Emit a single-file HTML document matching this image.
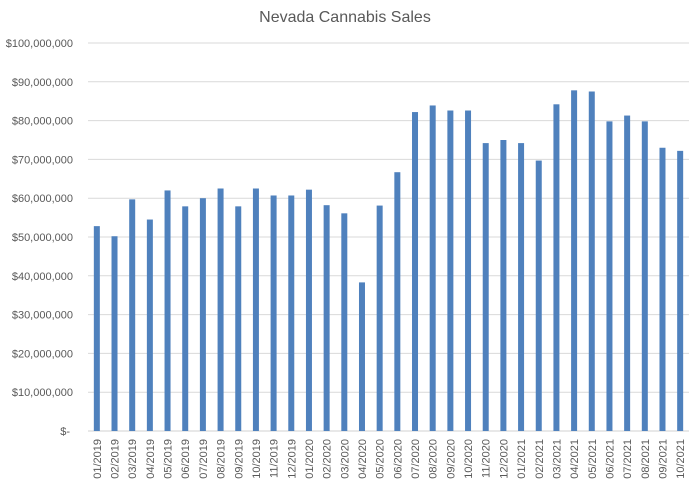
<!DOCTYPE html>
<html><head><style>body{margin:0;background:#fff}svg{display:block}text{font-family:"Liberation Sans",Calibri,sans-serif;fill:#595959}</style></head>
<body>
<svg id="s" width="689" height="483" xmlns="http://www.w3.org/2000/svg">
<text x="345" y="22" font-size="16" text-anchor="middle">Nevada Cannabis Sales</text>
<g id="g"></g>
</svg>
<script>
const vals=[52.8,50.2,59.7,54.5,62,57.9,60,62.5,57.9,62.5,60.7,60.7,62.2,58.2,56.1,38.3,58.1,66.7,82.2,83.9,82.6,82.6,74.2,75,74.2,69.7,84.2,87.8,87.5,79.8,81.3,79.8,73,72.2];
const g=document.getElementById('g');let h='';
const y0=431,k=3.88,x0=88,cw=601/34;
for(let i=0;i<=10;i++){const y=y0-i*10*k;
h+=`<line x1="${x0}" x2="689" y1="${y}" y2="${y}" stroke="${i==0?'#d0d0d0':'#d9d9d9'}" stroke-width="1"/>`;
const lab=i==0?'$-':'$'+(i*10000000).toLocaleString('en-US');
h+=`<text x="${i==0?70:73}" y="${y+4}" font-size="11" text-anchor="end">${lab}</text>`;}
vals.forEach((v,i)=>{const cx=x0+cw*(i+0.5);const hh=v*k;
h+=`<rect x="${cx-3}" y="${y0-hh}" width="6" height="${hh}" fill="#4f81bd"/>`;
const m=i%12+1,yr=2019+Math.floor(i/12);
h+=`<text transform="translate(${cx+4},439) rotate(-90)" font-size="11" text-anchor="end">${String(m).padStart(2,'0')}/${yr}</text>`;});
g.innerHTML=h;
</script>
</body></html>
